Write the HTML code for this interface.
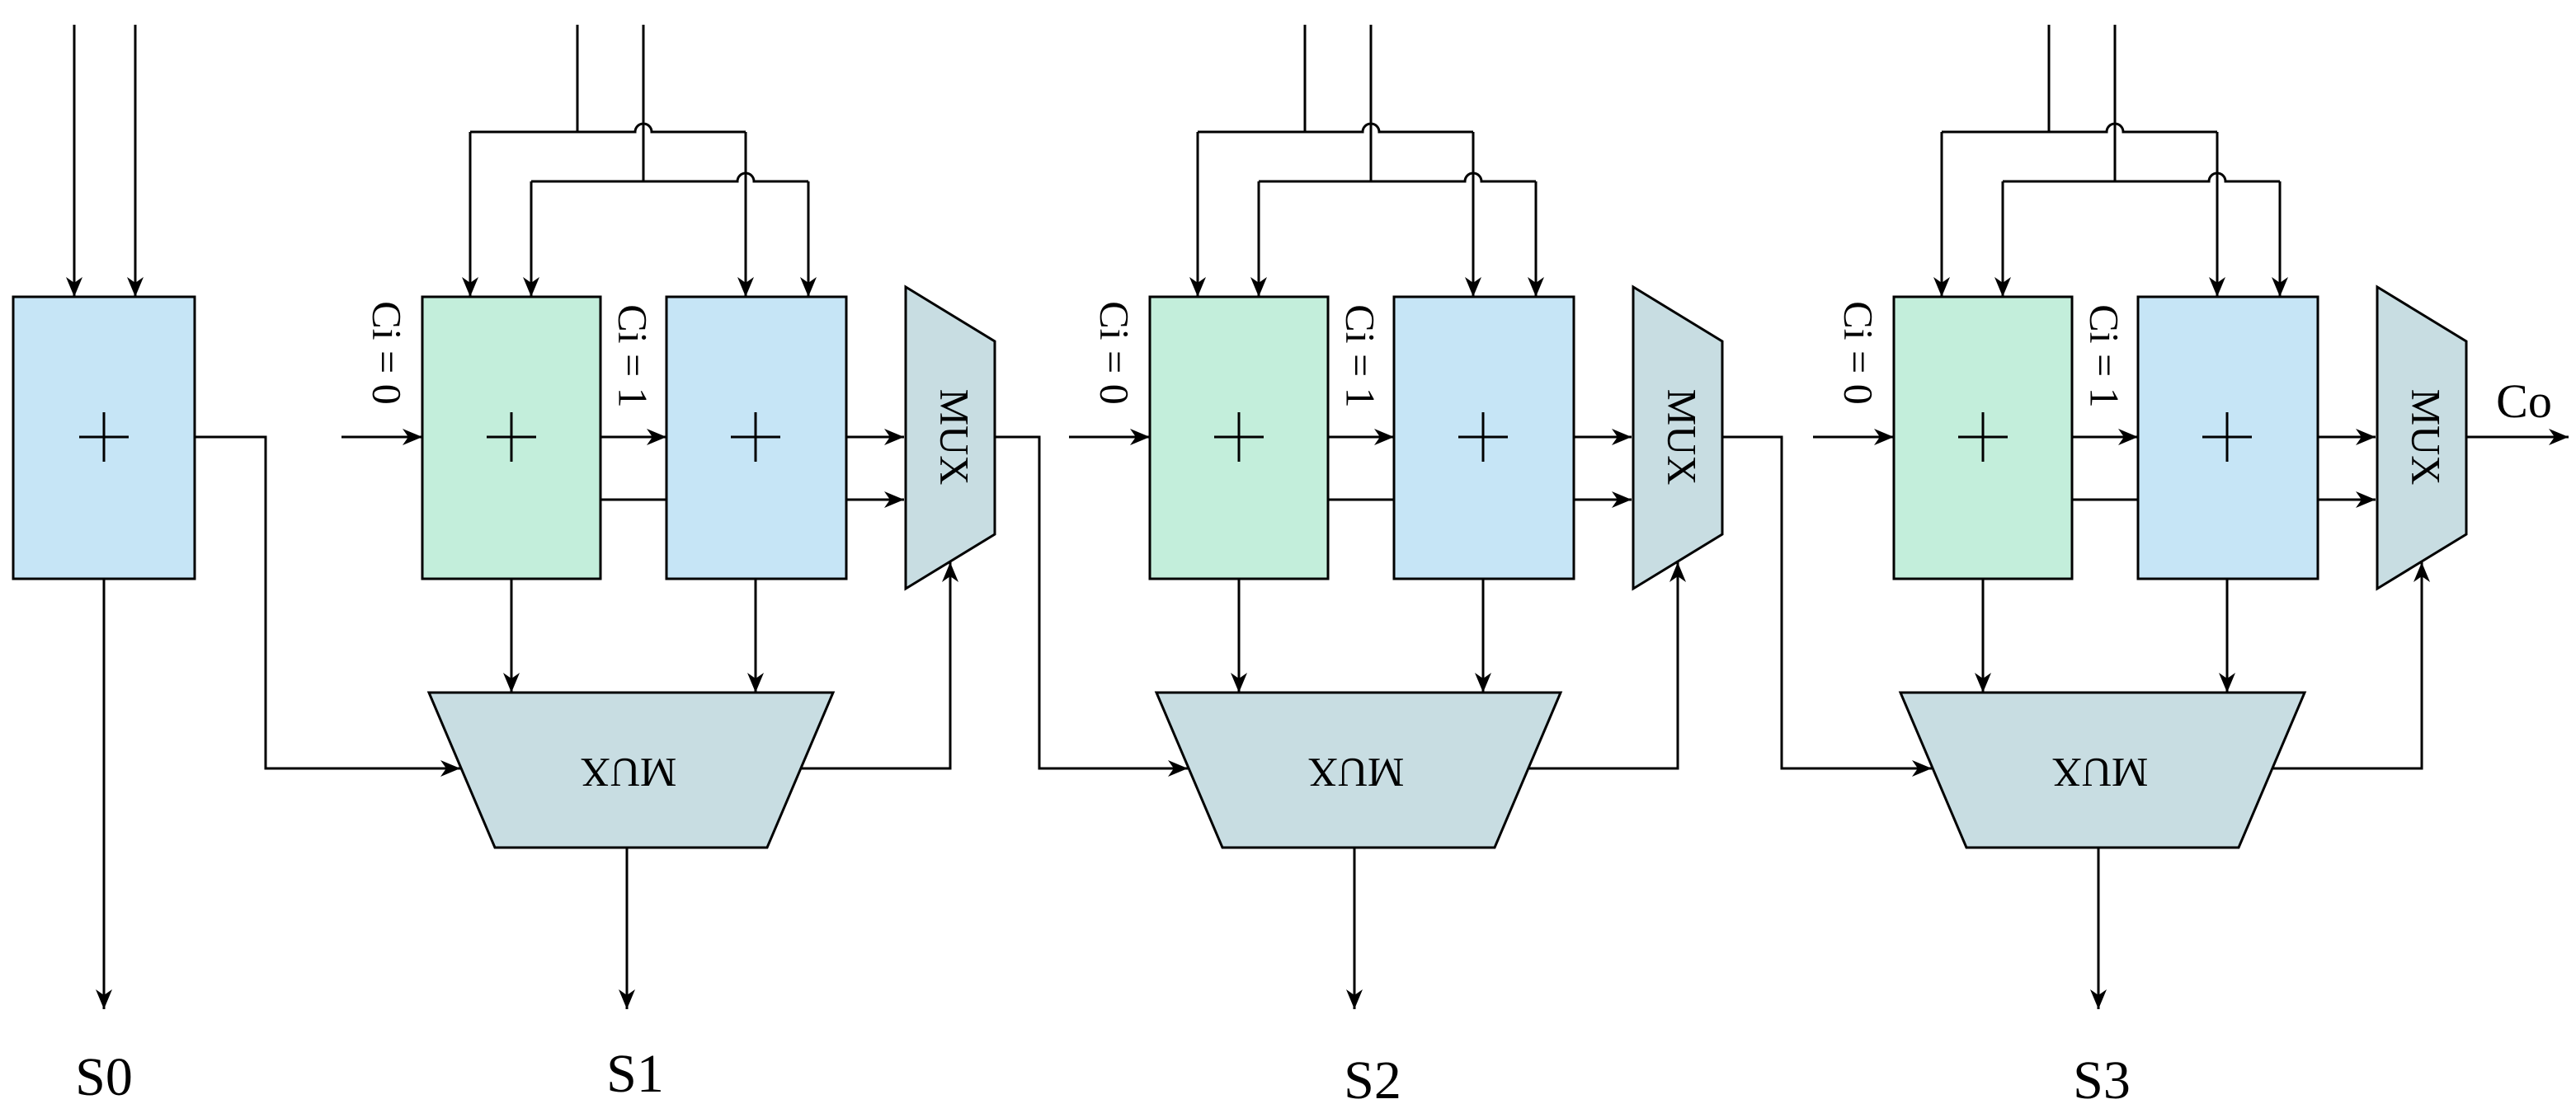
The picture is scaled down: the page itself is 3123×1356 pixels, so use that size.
<!DOCTYPE html>
<html><head><meta charset="utf-8"><style>
html,body{margin:0;padding:0;background:#fff;}
svg{display:block;}
text{font-family:"Liberation Serif",serif;fill:#000;}
</style></head><body>
<svg width="3123" height="1356" viewBox="0 0 1561.5 678" xmlns="http://www.w3.org/2000/svg">
<defs>
<marker id="a" markerUnits="userSpaceOnUse" markerWidth="14" markerHeight="10" refX="12" refY="5" orient="auto">
<path d="M0,0 L12,5 L0,10 L3.5,5 Z" fill="#000"/>
</marker>
<g id="st" stroke="#000" stroke-width="1.5" fill="none">
<path d="M350 15 V80 M285 80 H385 A5 5 0 0 1 395 80 H452 M390 15 V110 M322 110 H447 A5 5 0 0 1 457 110 H490"/>
<path d="M285 80 V180" marker-end="url(#a)"/>
<path d="M452 80 V180" marker-end="url(#a)"/>
<path d="M322 110 V180" marker-end="url(#a)"/>
<path d="M490 110 V180" marker-end="url(#a)"/>
<rect x="256" y="180" width="108" height="171" fill="#c3eedb"/>
<rect x="404" y="180" width="109" height="171" fill="#c6e5f6"/>
<path d="M295 265 H325 M310 250 V280 M443 265 H473 M458 250 V280"/>
<path d="M207 265 H256" marker-end="url(#a)"/>
<path d="M364 265 H404" marker-end="url(#a)"/>
<path d="M364 303 H404"/>
<path d="M513 265 H548" marker-end="url(#a)"/>
<path d="M513 303 H548" marker-end="url(#a)"/>
<polygon points="549,174 603,207 603,324 549,357" fill="#c8dde2"/>
<polygon points="260,420 505,420 465,514 300,514" fill="#c8dde2"/>
<path d="M310 351 V420" marker-end="url(#a)"/>
<path d="M458 351 V420" marker-end="url(#a)"/>
<path d="M486 466 H576 V341" marker-end="url(#a)"/>
<path d="M380 514 V612" marker-end="url(#a)"/>
</g>
</defs>
<g stroke="#000" stroke-width="1.5" fill="none">
<path d="M45 15 V180" marker-end="url(#a)"/>
<path d="M82 15 V180" marker-end="url(#a)"/>
<rect x="8" y="180" width="110" height="171" fill="#c6e5f6"/>
<path d="M48 265 H78 M63 250 V280"/>
<path d="M63 351 V612" marker-end="url(#a)"/>
<path d="M118 265 H161 V466 H279" marker-end="url(#a)"/>
<path d="M603 265 H630 V466 H720" marker-end="url(#a)"/>
<path d="M1044 265 H1080 V466 H1171" marker-end="url(#a)"/>
<path d="M1495 265 H1557" marker-end="url(#a)"/>
</g>
<use href="#st"/>
<use href="#st" transform="translate(441,0)"/>
<use href="#st" transform="translate(892,0)"/>
<g font-size="25">
<text x="232" y="214" transform="rotate(90 232 214)" text-anchor="middle" dominant-baseline="middle">Ci = 0</text>
<text x="381" y="216" transform="rotate(90 381 216)" text-anchor="middle" dominant-baseline="middle">Ci = 1</text>
<text x="673" y="214" transform="rotate(90 673 214)" text-anchor="middle" dominant-baseline="middle">Ci = 0</text>
<text x="822" y="216" transform="rotate(90 822 216)" text-anchor="middle" dominant-baseline="middle">Ci = 1</text>
<text x="1124" y="214" transform="rotate(90 1124 214)" text-anchor="middle" dominant-baseline="middle">Ci = 0</text>
<text x="1273" y="216" transform="rotate(90 1273 216)" text-anchor="middle" dominant-baseline="middle">Ci = 1</text>
</g>
<g font-size="25">
<text x="576" y="265" transform="rotate(90 576 265)" text-anchor="middle" dominant-baseline="middle">MUX</text>
<text x="1017" y="265" transform="rotate(90 1017 265)" text-anchor="middle" dominant-baseline="middle">MUX</text>
<text x="1468" y="265" transform="rotate(90 1468 265)" text-anchor="middle" dominant-baseline="middle">MUX</text>
<text x="381" y="466" transform="rotate(180 381 466)" text-anchor="middle" dominant-baseline="middle">MUX</text>
<text x="822" y="466" transform="rotate(180 822 466)" text-anchor="middle" dominant-baseline="middle">MUX</text>
<text x="1273" y="466" transform="rotate(180 1273 466)" text-anchor="middle" dominant-baseline="middle">MUX</text>
</g>
<g font-size="33" text-anchor="middle">
<text x="63" y="664">S0</text>
<text x="385" y="662">S1</text>
<text x="832" y="666">S2</text>
<text x="1274" y="666">S3</text>
<text x="1530" y="253" font-size="29">Co</text>
</g>
</svg>
</body></html>
